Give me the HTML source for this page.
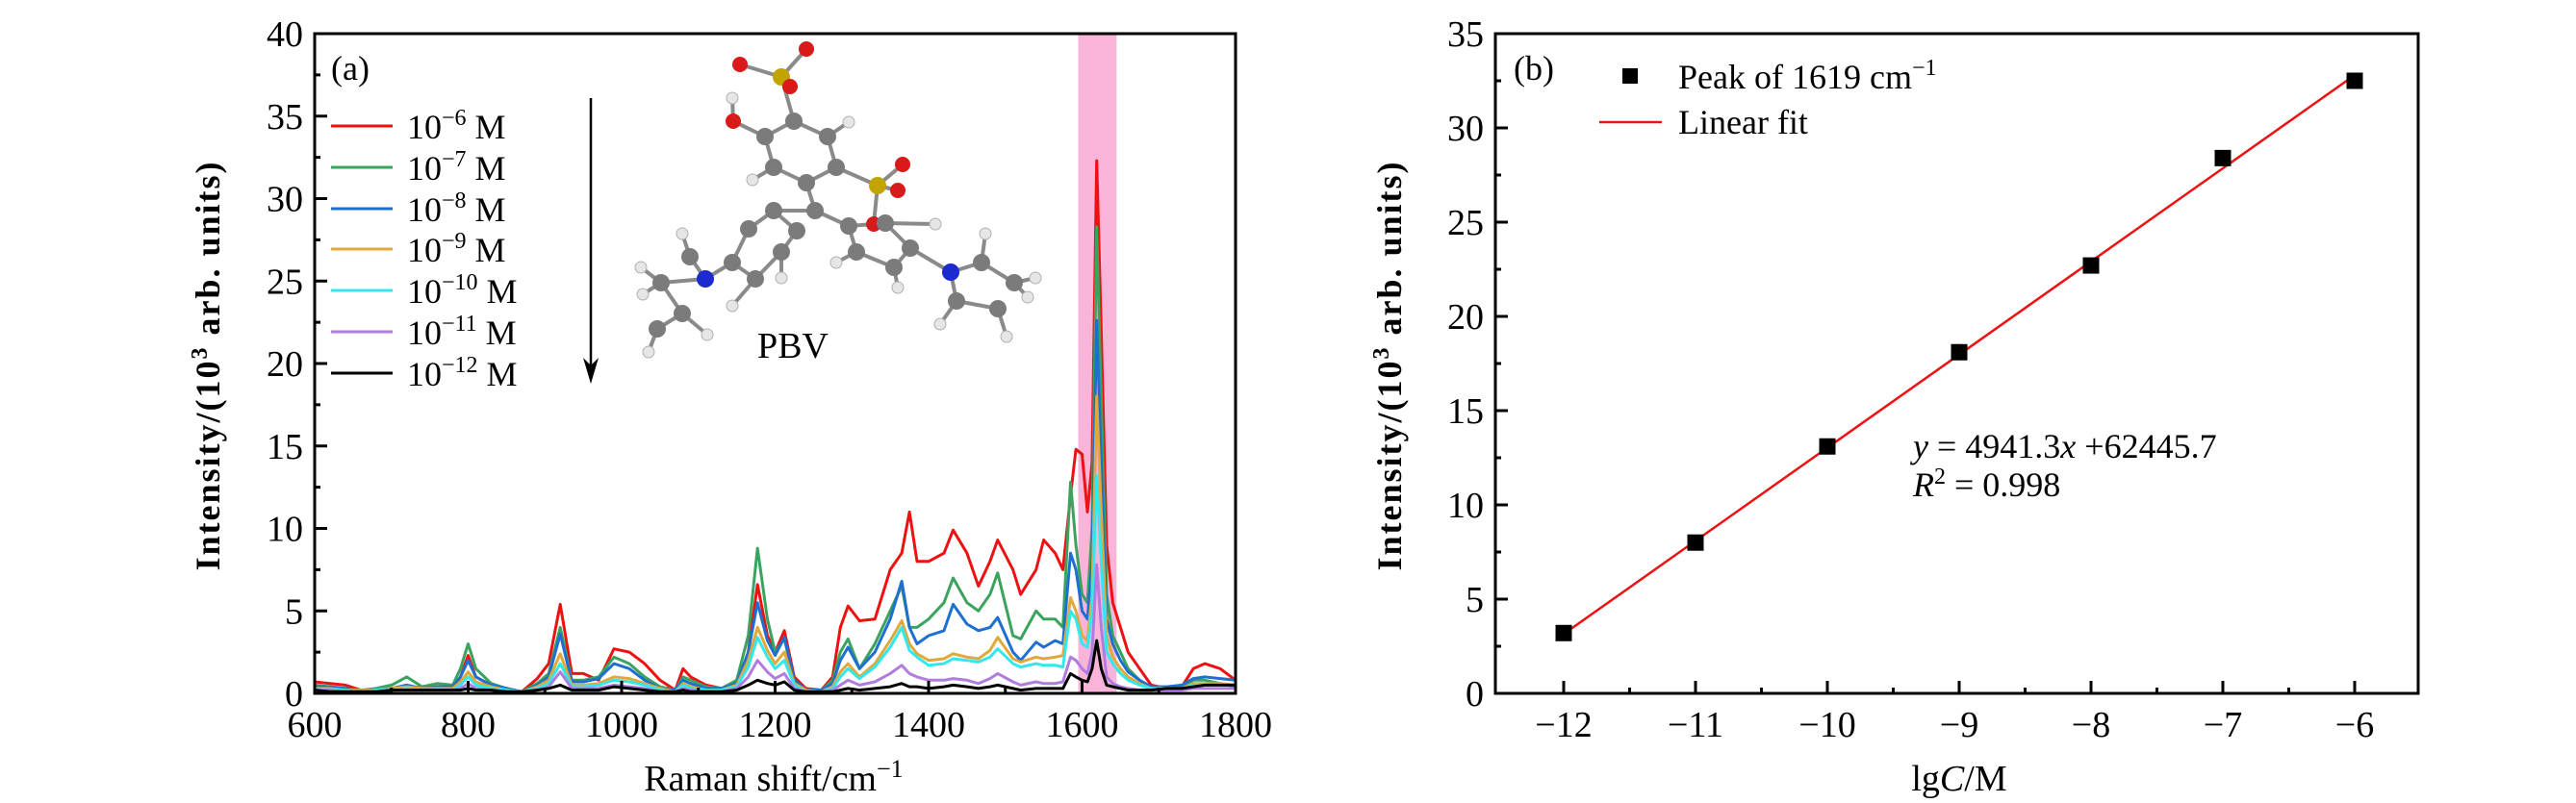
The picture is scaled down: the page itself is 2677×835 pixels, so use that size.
<!DOCTYPE html>
<html><head><meta charset="utf-8"><style>
html,body{margin:0;padding:0;background:#fff}
svg{display:block;font-family:"Liberation Serif",serif}
</style></head><body>
<svg id="fig" width="2677" height="835" viewBox="0 0 2677 835" xmlns="http://www.w3.org/2000/svg">
<g id="pa"></g>
<g id="pb"></g>
</svg>
<script>
// ---------- Panel (a) data ----------
const ramanShift = [600,620,640,660,680,700,720,740,760,780,
790,800,810,830,850,870,890,905,920,935,
950,970,990,1010,1030,1050,1070,1080,1090,1110,
1130,1150,1165,1177,1190,1200,1212,1225,1240,1260,
1275,1285,1295,1310,1330,1350,1365,1375,1385,1400,
1420,1432,1450,1465,1480,1490,1510,1520,1540,1550,
1565,1575,1585,1592,1600,1607,1613,1619,1625,1632,
1640,1650,1660,1675,1690,1710,1730,1745,1760,1780,1800];
const series6 = [0.7,0.6,0.5,0.2,0.1,0.2,0.3,0.2,0.4,0.3,
1.0,2.3,1.0,0.5,0.3,0.1,0.9,1.8,5.4,1.2,
1.2,0.8,2.7,2.5,1.8,0.8,0.2,1.5,1.0,0.5,
0.3,0.5,2.5,6.6,3.5,2.5,3.8,1.0,0.3,0.2,
1.0,4.0,5.3,4.4,4.5,7.5,8.5,11.0,8.0,8.0,
8.5,9.9,8.5,6.5,8.0,9.3,7.5,6.0,7.5,9.3,
8.5,7.5,12.0,14.8,14.5,11.0,14.0,32.3,22.0,9.0,
5.5,4.0,2.5,1.5,0.5,0.3,0.4,1.5,1.8,1.5,0.8];
const series7 = [0.5,0.4,0.3,0.2,0.3,0.5,1.0,0.4,0.6,0.5,
1.5,3.0,1.5,0.6,0.3,0.1,0.6,1.2,4.0,0.8,
0.8,1.0,2.2,1.8,1.0,0.4,0.2,1.0,0.8,0.4,
0.3,0.8,3.5,8.8,4.5,2.5,3.3,0.8,0.2,0.2,
0.8,2.5,3.3,1.5,3.0,5.0,6.5,4.0,4.0,4.5,
5.5,7.0,5.5,5.0,6.0,7.3,3.5,3.3,5.0,4.5,
4.5,4.0,12.8,9.0,6.0,5.5,10.0,28.3,18.0,6.0,
3.5,2.5,1.5,0.8,0.3,0.3,0.3,0.8,0.8,0.6,0.4];
const series8 = [0.4,0.4,0.3,0.2,0.2,0.3,0.5,0.3,0.4,0.4,
1.0,2.0,1.0,0.5,0.3,0.1,0.5,1.0,3.6,0.7,
0.7,0.9,1.8,1.5,0.8,0.3,0.2,0.8,0.6,0.3,
0.3,0.6,2.5,5.5,3.2,2.3,3.4,0.8,0.2,0.2,
0.6,2.0,2.8,1.5,2.5,4.5,6.8,4.0,3.0,3.5,
3.8,5.4,4.2,3.8,4.0,4.6,2.5,2.0,3.1,2.8,
3.2,3.0,8.5,7.5,5.0,4.5,8.0,22.6,14.0,4.5,
3.0,2.0,1.3,0.8,0.4,0.4,0.5,0.9,1.0,0.9,0.8];
const series9 = [0.3,0.3,0.2,0.2,0.2,0.3,0.4,0.3,0.3,0.3,
0.7,1.3,0.7,0.4,0.2,0.1,0.4,0.8,2.4,0.5,
0.5,0.6,1.0,0.9,0.6,0.3,0.1,0.6,0.4,0.2,
0.2,0.5,2.0,4.0,2.6,1.8,2.5,0.6,0.2,0.1,
0.4,1.3,1.8,1.0,1.8,3.2,4.4,3.0,2.4,2.0,
2.1,2.4,2.2,2.1,2.6,3.4,2.1,1.9,2.2,2.1,
2.2,2.3,5.8,5.0,3.5,3.2,6.0,18.0,11.0,3.5,
2.2,1.5,1.0,0.6,0.3,0.3,0.3,0.6,0.6,0.6,0.5];
const series10 = [0.3,0.2,0.2,0.1,0.2,0.2,0.3,0.2,0.3,0.2,
0.5,1.0,0.5,0.3,0.2,0.1,0.3,0.6,1.8,0.4,
0.4,0.5,0.8,0.7,0.5,0.2,0.1,0.5,0.3,0.2,
0.2,0.4,1.6,3.4,2.2,1.5,2.0,0.5,0.1,0.1,
0.3,1.0,1.5,0.9,1.6,2.8,4.0,2.6,2.2,1.7,
1.8,2.1,2.0,1.9,2.2,2.7,1.8,1.6,1.8,1.7,
1.7,1.6,5.0,4.5,3.0,2.8,5.0,13.2,8.0,2.5,
1.8,1.2,0.8,0.5,0.3,0.3,0.3,0.5,0.5,0.5,0.5];
const series11 = [0.2,0.2,0.1,0.1,0.1,0.2,0.2,0.2,0.2,0.2,
0.3,0.6,0.3,0.2,0.1,0.1,0.2,0.4,1.3,0.3,
0.3,0.3,0.5,0.4,0.3,0.1,0.1,0.3,0.2,0.1,
0.1,0.3,1.0,2.0,1.3,0.9,1.2,0.3,0.1,0.1,
0.2,0.5,0.8,0.5,0.7,1.2,1.7,1.2,1.0,0.8,
0.8,0.9,0.8,0.6,0.9,1.2,0.7,0.5,0.7,0.6,
0.6,0.7,2.2,2.0,1.5,1.2,2.5,7.8,4.0,1.0,
0.6,0.4,0.3,0.2,0.2,0.2,0.2,0.3,0.3,0.3,0.3];
const series12 = [0.2,0.1,0.1,0.1,0.1,0.2,0.2,0.2,0.2,0.2,
0.2,0.3,0.2,0.2,0.1,0.1,0.2,0.3,0.5,0.2,
0.2,0.2,0.4,0.3,0.2,0.1,0.1,0.2,0.1,0.1,
0.1,0.2,0.5,0.8,0.6,0.5,0.7,0.2,0.1,0.1,
0.1,0.2,0.3,0.2,0.3,0.4,0.6,0.4,0.4,0.3,
0.4,0.5,0.4,0.3,0.4,0.5,0.3,0.2,0.3,0.3,
0.3,0.3,1.2,1.0,0.8,0.7,1.5,3.2,1.5,0.5,
0.4,0.3,0.2,0.2,0.2,0.3,0.3,0.4,0.5,0.5,0.5];
const seriesExp = ["6","7","8","9","10","11","12"];
const aXTicks = [600,800,1000,1200,1400,1600,1800];
const aYTicks = [0,5,10,15,20,25,30,35,40];
const band = [1595,1645];
// ---------- Panel (b) data ----------
const lgC = [-12,-11,-10,-9,-8,-7,-6];
const peakI = [3.2,8.0,13.1,18.1,22.7,28.4,32.5];
const fitSlope = 4.9413, fitIntercept = 62.4457;
const bXTicks = [-12,-11,-10,-9,-8,-7,-6];
const bYTicks = [0,5,10,15,20,25,30,35];

const NS="http://www.w3.org/2000/svg";
function mk(parent,tag,attrs,text){const e=document.createElementNS(NS,tag);for(const k in attrs)e.setAttribute(k,attrs[k]);if(text!==undefined)e.textContent=text;parent.appendChild(e);return e;}

// ----- Panel a -----
const pa=document.getElementById('pa');
const aL=327,aR=1284,aT=35,aB=721;
const ax=v=>aL+(v-600)/1200*(aR-aL);
const ay=v=>aB-v/40*(aB-aT);
let r=mk(pa,'rect',{x:ax(band[0]),y:aT,width:ax(band[1])-ax(band[0]),height:aB-aT,fill:'#f9b4da'});


const seriesList=[series6,series7,series8,series9,series10,series11,series12];
const colors=['#ee1111','#3aa35d','#1f6fd0','#e0a93a','#33e8ec','#b07ce0','#000000'];
for(let s=0;s<seriesList.length;s++){
  const d=seriesList[s].map((v,i)=>(i?'L':'M')+ax(ramanShift[i]).toFixed(1)+','+ay(v).toFixed(1)).join('');
  const p=mk(pa,'path',{d:d,fill:'none',stroke:colors[s],'stroke-width':3,'stroke-linejoin':'round'});
  
  
}
// frame
let fa=mk(pa,'rect',{x:aL,y:aT,width:aR-aL,height:aB-aT,fill:'none',stroke:'#000','stroke-width':3});


for(let v=0;v<=40;v+=2.5){const y=ay(v);const big=v%5===0;mk(pa,'line',{x1:aL,x2:aL+(big?13:6),y1:y,y2:y,stroke:'#000','stroke-width':3});}
for(let v=600;v<=1800;v+=100){const x=ax(v);const big=v%200===0;mk(pa,'line',{x1:x,x2:x,y1:aB,y2:aB-(big?13:6),stroke:'#000','stroke-width':3});}
aYTicks.forEach(v=>{const t=mk(pa,'text',{x:aL-12,y:ay(v)+13,'font-size':38,'text-anchor':'end'},String(v));

});
aXTicks.forEach(v=>{const t=mk(pa,'text',{x:ax(v),y:766,'font-size':38,'text-anchor':'middle'},String(v));

});
let xt=mk(pa,'text',{x:804,y:822,'font-size':38,'text-anchor':'middle'});
xt.innerHTML='Raman shift/cm<tspan dy="-14" font-size="26">−1</tspan>';


let yt=mk(pa,'text',{x:0,y:0,'font-size':36,'font-weight':'bold','text-anchor':'middle',transform:'translate(228,380) rotate(-90)','letter-spacing':'2'});
yt.innerHTML='Intensity/(10<tspan dy="-13" font-size="24">3</tspan><tspan dy="13"> arb. units)</tspan>';


let la=mk(pa,'text',{x:344,y:83,'font-size':36},'(a)');


// legend
const legY=[131,174,217,259,302,345,388];
for(let s=0;s<7;s++){
  const g=mk(pa,'g',{});
  
  
  mk(g,'line',{x1:344,x2:408,y1:legY[s],y2:legY[s],stroke:colors[s],'stroke-width':3});
  const t=mk(g,'text',{x:423,y:legY[s]+13,'font-size':36});
  t.innerHTML='10<tspan dy="-14" font-size="24">−'+seriesExp[s]+'</tspan><tspan dy="14"> M</tspan>';
}
// arrow
let ar=mk(pa,'g',{});


mk(ar,'line',{x1:614,x2:614,y1:102,y2:385,stroke:'#000','stroke-width':2.5});
mk(ar,'path',{d:'M606,372 L614,399 L622,372 L614,380 Z',fill:'#000'});
// molecule
const mol=mk(pa,'g',{});


const atoms={S1:[812,80,'S'],O1:[769,67,'O'],O2:[838,51,'O'],O3:[821,90,'O'],
C1:[825,126,'C'],O4:[762,126,'O'],H1:[761,102,'H'],
C2:[860,142,'C'],C3:[869,174,'C'],C4:[838,190,'C'],C5:[804,174,'C'],C6:[795,142,'C'],
S2:[912,193,'S'],O5:[938,171,'O'],O6:[933,198,'O'],O7:[908,233,'O'],
H2:[882,127,'H'],H3:[782,187,'H'],
C7:[847,219,'C'],C8:[804,219,'C'],C9:[778,238,'C'],C10:[761,273,'C'],C11:[785,290,'C'],C12:[812,262,'C'],C13:[828,240,'C'],
N1:[733,290,'N'],C14:[717,267,'C'],C15:[687,294,'C'],C16:[709,326,'C'],C17:[683,342,'C'],
C18:[882,235,'C'],C19:[920,232,'C'],C20:[946,258,'C'],C21:[929,278,'C'],C22:[890,262,'C'],
N2:[988,283,'N'],C23:[1020,273,'C'],C24:[1054,294,'C'],C25:[994,313,'C'],C26:[1037,321,'C'],
H4:[709,243,'H'],H5:[666,278,'H'],H6:[674,366,'H'],H7:[735,348,'H'],H8:[812,289,'H'],H9:[761,318,'H'],
H10:[933,299,'H'],H11:[972,233,'H'],H12:[1024,243,'H'],H13:[1076,289,'H'],H14:[977,337,'H'],H15:[1046,350,'H'],
H16:[869,273,'H'],H17:[668,306,'H'],H18:[1068,309,'H']};
const bonds=[['S1','O1'],['S1','O2'],['S1','O3'],['S1','C1'],['C1','C2'],['C2','C3'],['C3','C4'],['C4','C5'],['C5','C6'],['C6','C1'],['C6','O4'],['O4','H1'],['C3','S2'],['S2','O5'],['S2','O6'],['S2','O7'],['C2','H2'],['C5','H3'],['C4','C7'],['C7','C8'],['C8','C9'],['C9','C10'],['C10','C11'],['C11','C12'],['C12','C13'],['C13','C8'],['C10','N1'],['N1','C14'],['N1','C15'],['C15','C16'],['C16','C17'],['C14','H4'],['C15','H5'],['C17','H6'],['C16','H7'],['C12','H8'],['C11','H9'],['C7','C18'],['C18','C19'],['C19','C20'],['C20','C21'],['C21','C22'],['C22','C18'],['C20','N2'],['N2','C23'],['N2','C25'],['C23','C24'],['C25','C26'],['C21','H10'],['C19','H11'],['C23','H12'],['C24','H13'],['C25','H14'],['C26','H15'],['C22','H16'],['C15','H17'],['C24','H18']];
bonds.forEach(b=>{const a=atoms[b[0]],c=atoms[b[1]];mk(mol,'line',{x1:a[0],y1:a[1],x2:c[0],y2:c[1],stroke:'#8a8a8a','stroke-width':4});});
const fill={C:'#7b7b7b',O:'#d81a1a',S:'#c2a400',N:'#1c2bd0',H:'#e6e6e6'};
const rad={C:9,O:8,S:9,N:9,H:6};
Object.values(atoms).forEach(a=>{mk(mol,'circle',{cx:a[0],cy:a[1],r:rad[a[2]],fill:fill[a[2]],stroke:a[2]==='H'?'#b0b0b0':'none','stroke-width':1});});
let pbv=mk(pa,'text',{x:824,y:372,'font-size':38,'text-anchor':'middle'},'PBV');



// ----- Panel b -----
const pb=document.getElementById('pb');
const bL=1554,bR=2513,bT=35,bB=721;
const bx=v=>1625+(v+12)*137;
const by=v=>bB-v/35*(bB-bT);
let fb=mk(pb,'rect',{x:bL,y:bT,width:bR-bL,height:bB-bT,fill:'none',stroke:'#000','stroke-width':3});


for(let v=0;v<=35;v+=2.5){const y=by(v);const big=v%5===0;mk(pb,'line',{x1:bL,x2:bL+(big?13:6),y1:y,y2:y,stroke:'#000','stroke-width':3});}
for(let v=-12;v<=-6;v+=0.5){const x=bx(v);const big=Number.isInteger(v);mk(pb,'line',{x1:x,x2:x,y1:bB,y2:bB-(big?13:6),stroke:'#000','stroke-width':3});}
bYTicks.forEach(v=>{const t=mk(pb,'text',{x:bL-12,y:by(v)+13,'font-size':38,'text-anchor':'end'},String(v));

});
bXTicks.forEach(v=>{const t=mk(pb,'text',{x:bx(v),y:766,'font-size':38,'text-anchor':'middle'},'−'+Math.abs(v));

});
let xtb=mk(pb,'text',{x:2036,y:822,'font-size':38,'text-anchor':'middle'});
xtb.innerHTML='lg<tspan font-style="italic">C</tspan>/M';


let ytb=mk(pb,'text',{x:0,y:0,'font-size':36,'font-weight':'bold','text-anchor':'middle',transform:'translate(1456,380) rotate(-90)','letter-spacing':'2'});
ytb.innerHTML='Intensity/(10<tspan dy="-13" font-size="24">3</tspan><tspan dy="13"> arb. units)</tspan>';


let lb=mk(pb,'text',{x:1573,y:83,'font-size':36},'(b)');


const fx0=lgC[0],fx1=lgC[lgC.length-1];
let fl=mk(pb,'line',{x1:bx(fx0),y1:by(fitSlope*fx0+fitIntercept),x2:bx(fx1),y2:by(fitSlope*fx1+fitIntercept),stroke:'#ee1111','stroke-width':2.5});


lgC.forEach((v,i)=>{const s=mk(pb,'rect',{x:bx(v)-8.5,y:by(peakI[i])-8.5,width:17,height:17,fill:'#000'});

});
let lg1=mk(pb,'g',{});


mk(lg1,'rect',{x:1686,y:71,width:16,height:16,fill:'#000'});
let lt1=mk(lg1,'text',{x:1744,y:92,'font-size':36});
lt1.innerHTML='Peak of 1619 cm<tspan dy="-14" font-size="24">−1</tspan>';
let lg2=mk(pb,'g',{});


mk(lg2,'line',{x1:1662,x2:1727,y1:127,y2:127,stroke:'#ee1111','stroke-width':2.5});
mk(lg2,'text',{x:1744,y:139,'font-size':36},'Linear fit');
let eq=mk(pb,'text',{x:1988,y:476,'font-size':36});
eq.innerHTML='<tspan font-style="italic">y</tspan> = 4941.3<tspan font-style="italic">x</tspan> +62445.7';


let r2=mk(pb,'text',{x:1988,y:516,'font-size':36});
r2.innerHTML='<tspan font-style="italic">R</tspan><tspan dy="-13" font-size="24">2</tspan><tspan dy="13"> = 0.998</tspan>';


</script>
</body></html>
